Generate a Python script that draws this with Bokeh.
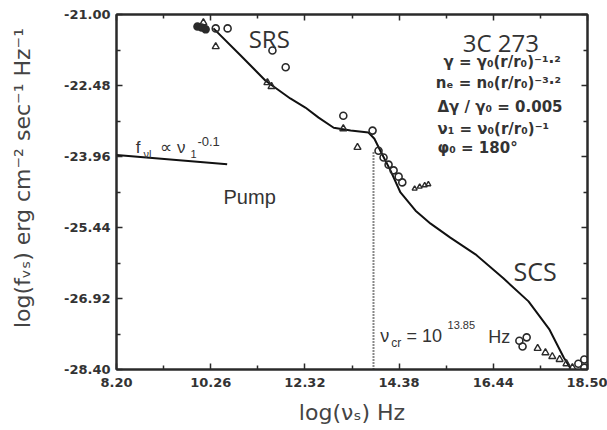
from bokeh.plotting import figure
from bokeh.models import Range1d, FixedTicker, LinearAxis, Label
from bokeh.embed import file_html
from bokeh.resources import INLINE

# ---------------- data ----------------
x_ticks = [8.20, 10.26, 12.32, 14.38, 16.44, 18.50]
x_tick_labels = ["8.20", "10.26", "12.32", "14.38", "16.44", "18.50"]
y_ticks = [-28.40, -26.92, -25.44, -23.96, -22.48, -21.00]
y_tick_labels = ["-28.40", "-26.92", "-25.44", "-23.96", "-22.48", "-21.00"]

# model curve (SRS + SCS)
curve_x = [10.32, 10.91, 11.46, 12.00, 12.33, 12.62, 12.95, 13.32, 13.71, 13.84,
           13.97, 14.19, 14.41, 14.74, 15.07, 15.50, 16.05, 16.66, 17.21, 17.67,
           17.98, 18.13]
curve_y = [-21.29, -21.85, -22.38, -22.75, -22.94, -23.15, -23.36, -23.42, -23.46, -23.59,
           -23.84, -24.25, -24.71, -25.09, -25.36, -25.65, -26.00, -26.50, -26.98, -27.57,
           -28.15, -28.38]

# pump spectrum f ~ nu^-0.1
pump_x = [8.20, 10.62]
pump_y = [-23.93, -24.12]

# critical frequency marker
nu_cr = 13.82
nu_cr_top = -23.85

# observed points
circ_x = [10.37, 10.63, 11.61, 11.90, 13.16, 13.80,
          13.93, 14.04, 14.15, 14.26, 14.37, 14.45,
          17.01, 17.17, 17.08, 18.30, 18.43, 18.43]
circ_y = [-21.29, -21.29, -21.75, -22.10, -23.11, -23.42,
          -23.84, -23.98, -24.13, -24.25, -24.38, -24.50,
          -27.80, -27.73, -27.92, -28.28, -28.19, -28.36]

filled_x = [9.97, 10.06, 10.15]
filled_y = [-21.25, -21.27, -21.31]

tri_x = [10.10, 10.37, 11.50, 11.59, 13.16, 13.47,
         17.41, 17.58, 17.73, 17.89, 18.04, 18.17]
tri_y = [-21.17, -21.67, -22.42, -22.50, -23.38, -23.77,
         -27.96, -28.05, -28.13, -28.19, -28.28, -28.36]

small_tri_x = [14.72, 14.83, 14.94, 15.02]
small_tri_y = [-24.63, -24.59, -24.56, -24.54]

# ---------------- figure ----------------
INK = "#2a2a2a"
TXT = "#333333"

p = figure(width=607, height=430,
           x_range=Range1d(8.20, 18.50), y_range=Range1d(-28.40, -21.00),
           output_backend="svg", toolbar_location=None,
           min_border_left=116, min_border_right=20,
           min_border_top=14, min_border_bottom=61)
p.xgrid.visible = False
p.ygrid.visible = False
p.outline_line_color = INK
p.outline_line_width = 2
p.background_fill_color = "white"
p.border_fill_color = "white"

x_minor = [(a + b) / 2 for a, b in zip(x_ticks[:-1], x_ticks[1:])]
y_minor = [(a + b) / 2 for a, b in zip(y_ticks[:-1], y_ticks[1:])]


def style_axis(ax, ticks, minor, labels, show):
    ax.ticker = FixedTicker(ticks=ticks, minor_ticks=minor)
    ax.axis_line_color = INK
    ax.axis_line_width = 2
    ax.major_tick_in = 6
    ax.major_tick_out = 0
    ax.minor_tick_in = 4
    ax.minor_tick_out = 0
    ax.major_tick_line_color = INK
    ax.minor_tick_line_color = INK
    ax.major_tick_line_width = 1.5
    ax.minor_tick_line_width = 1.5
    if show:
        ax.major_label_overrides = dict(zip(ticks, labels))
        ax.major_label_text_font = "DejaVu Sans"
        ax.major_label_text_font_style = "bold"
        ax.major_label_text_font_size = "13px"
        ax.major_label_text_color = TXT
    else:
        ax.major_label_overrides = {t: "" for t in ticks}
        ax.major_label_text_font_size = "0px"
        ax.major_label_standoff = 0


xa = p.xaxis[0]
ya = p.yaxis[0]
style_axis(xa, x_ticks, x_minor, x_tick_labels, True)
style_axis(ya, y_ticks, y_minor, y_tick_labels, True)
xa.major_label_standoff = 8
ya.major_label_standoff = 6

xa.axis_label = "log(\u03bd\u209b) Hz"
ya.axis_label = ("\u00a0\u00a0\u00a0\u00a0log(f\u1d65\u209b) erg cm\u207b\u00b2 "
                 "sec\u207b\u00b9 Hz\u207b\u00b9")
for ax in (xa, ya):
    ax.axis_label_text_font = "DejaVu Sans"
    ax.axis_label_text_font_style = "normal"
    ax.axis_label_text_font_size = "22px"
    ax.axis_label_text_color = "#444444"
xa.axis_label_standoff = 10
ya.axis_label_standoff = 26

top_ax = LinearAxis()
right_ax = LinearAxis()
style_axis(top_ax, x_ticks, x_minor, x_tick_labels, False)
style_axis(right_ax, y_ticks, y_minor, y_tick_labels, False)
p.add_layout(top_ax, "above")
p.add_layout(right_ax, "right")

# lines
p.line(curve_x, curve_y, line_color="#111111", line_width=2)
p.line(pump_x, pump_y, line_color="#111111", line_width=2)
p.line([nu_cr, nu_cr], [-28.40, nu_cr_top], line_color="#111111",
       line_width=2, line_dash="1 2")

# markers
p.scatter(filled_x, filled_y, marker="circle", size=7, fill_color=INK,
          line_color=INK, line_width=1.5)
p.scatter(circ_x, circ_y, marker="circle", size=7, fill_color=None,
          line_color=INK, line_width=1.6)
p.scatter(tri_x, tri_y, marker="triangle", size=7, fill_color=None,
          line_color=INK, line_width=1.4)
p.scatter(small_tri_x, small_tri_y, marker="triangle", size=5, fill_color=None,
          line_color=INK, line_width=1.4)


# ---------------- texts ----------------
def lab(x, y, text, size, font="DejaVu Sans", style="normal", color=TXT):
    p.add_layout(Label(x=x, y=y, text=text, text_font=font,
                       text_font_style=style, text_font_size=size,
                       text_color=color, text_baseline="alphabetic",
                       text_align="left"))


lab(11.09, -21.50, "SRS", "24px", font="Open Sans")
lab(15.77, -21.58, "3C 273", "24px", font="Open Sans")
lab(16.88, -26.34, "SCS", "25px", font="Open Sans")
lab(10.54, -24.80, "Pump", "20px", font="Liberation Sans")

B = "bold"
lab(15.35, -21.98, "\u03b3 = \u03b3\u2080(r/r\u2080)\u207b\u00b9\u00b7\u00b2", "15px", style=B)
lab(15.18, -22.42, "n\u2091 = n\u2080(r/r\u2080)\u207b\u00b3\u00b7\u00b2", "15px", style=B)
lab(15.22, -22.92, "\u0394\u03b3 / \u03b3\u2080 = 0.005", "15px", style=B)
lab(15.22, -23.38, "\u03bd\u2081 = \u03bd\u2080(r/r\u2080)\u207b\u00b9", "15px", style=B)
lab(15.22, -23.79, "\u03c6\u2080 = 180\u00b0", "15px", style=B)

lab(8.62, -23.77, "f", "17px", font="Liberation Sans")
lab(8.79, -23.90, "\u03bdl", "11px", font="Liberation Sans")
lab(9.16, -23.77, "\u221d \u03bd", "17px", font="Liberation Sans")
lab(9.82, -23.90, "1", "11px", font="Liberation Sans")
lab(9.97, -23.65, "-0.1", "13px", font="Liberation Sans")

lab(13.97, -27.71, "\u03bd", "18px", font="Liberation Sans")
lab(14.21, -27.84, "cr", "12px", font="Liberation Sans")
lab(14.54, -27.71, "= 10", "18px", font="Liberation Sans")
lab(15.44, -27.48, "13.85", "11px", font="Liberation Sans")
lab(16.33, -27.73, "Hz", "18px", font="Liberation Sans")

open("out.html", "w").write(file_html(p, INLINE))
